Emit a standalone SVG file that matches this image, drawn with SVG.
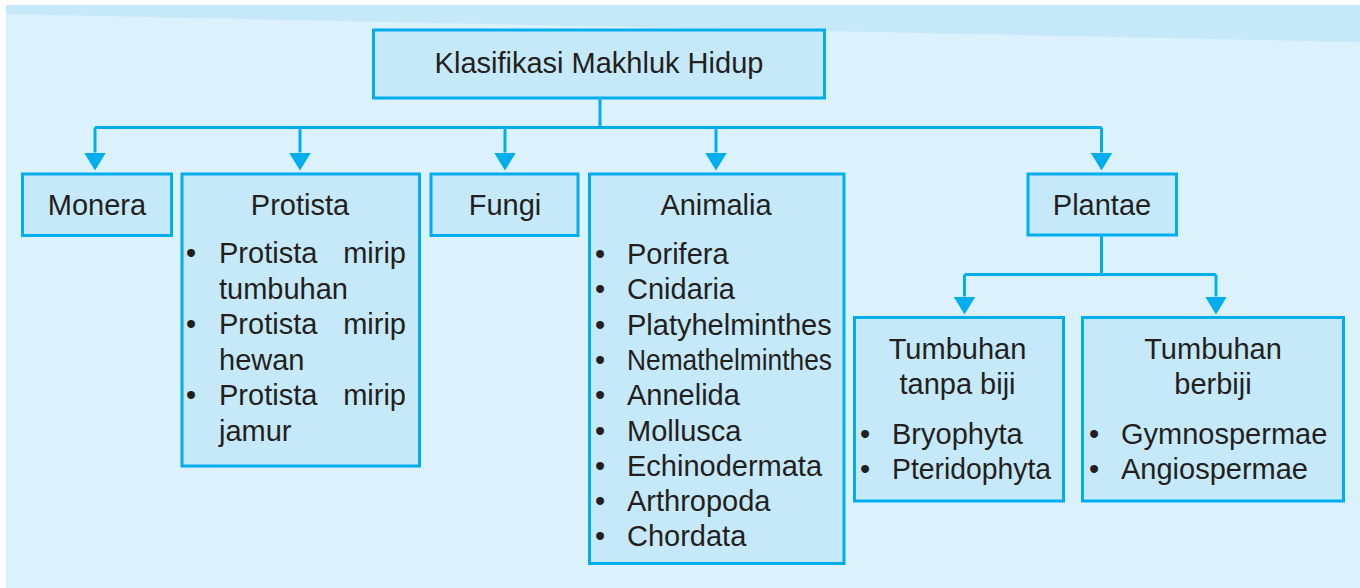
<svg xmlns="http://www.w3.org/2000/svg" width="1360" height="588" viewBox="0 0 1360 588">
<defs>
<style>
.box{fill:#c6e9f9;stroke:#00aeef;stroke-width:3}
.t{font-family:"Liberation Sans",Arial,Helvetica,sans-serif;font-size:29px;fill:#231f20}
.c{text-anchor:middle}
.con{fill:none;stroke:#00aeef;stroke-width:3}
</style>
<marker id="arr" markerUnits="userSpaceOnUse" markerWidth="18" markerHeight="22" refX="0" refY="11" orient="auto" viewBox="0 0 18 22">
<path d="M0 0 L18 11 L0 22 Z" fill="#00aeef"/>
</marker>
</defs>
<rect x="0" y="0" width="1360" height="588" fill="#ffffff"/>
<rect x="6" y="5" width="1354" height="583" fill="#dbf1fc"/>
<polygon points="6,5 1360,5 1360,42 6,14" fill="#c6e9f9"/>

<g id="connectors" class="con">
<path d="M600 98 V127.5 M95 127.5 H1101.5"/>
<path d="M95 127.5 V152.5" marker-end="url(#arr)"/>
<path d="M300 127.5 V152.5" marker-end="url(#arr)"/>
<path d="M505 127.5 V152.5" marker-end="url(#arr)"/>
<path d="M716 127.5 V152.5" marker-end="url(#arr)"/>
<path d="M1101.5 127.5 V152.5" marker-end="url(#arr)"/>
<path d="M1101.5 235 V274.5 M964.5 274.5 H1216"/>
<path d="M964.5 274.5 V296.5" marker-end="url(#arr)"/>
<path d="M1216 274.5 V296.5" marker-end="url(#arr)"/>
</g>

<g id="root">
<rect class="box" x="373.5" y="30" width="451" height="68"/>
<text class="t c" x="599" y="73">Klasifikasi Makhluk Hidup</text>
</g>

<g id="monera">
<rect class="box" x="22.5" y="174" width="149" height="61.5"/>
<text class="t c" x="97" y="215">Monera</text>
</g>

<g id="protista">
<rect class="box" x="182" y="174" width="237.5" height="292"/>
<text class="t c" x="300" y="215">Protista</text>
<g class="t">
<text x="186" y="263">•</text>
<text x="219" y="263">Protista<tspan x="406" text-anchor="end">mirip</tspan></text>
<text x="219" y="298.5">tumbuhan</text>
<text x="186" y="334">•</text>
<text x="219" y="334">Protista<tspan x="406" text-anchor="end">mirip</tspan></text>
<text x="219" y="369.5">hewan</text>
<text x="186" y="405">•</text>
<text x="219" y="405">Protista<tspan x="406" text-anchor="end">mirip</tspan></text>
<text x="219" y="440.5">jamur</text>
</g>
</g>

<g id="fungi">
<rect class="box" x="431" y="174" width="147" height="61.5"/>
<text class="t c" x="505" y="215">Fungi</text>
</g>

<g id="animalia">
<rect class="box" x="589.5" y="174" width="254.5" height="389.5"/>
<text class="t c" x="716" y="215">Animalia</text>
<g class="t">
<text x="595" y="264">•</text><text x="627" y="264">Porifera</text>
<text x="595" y="299.3">•</text><text x="627" y="299.3">Cnidaria</text>
<text x="595" y="334.6">•</text><text x="627" y="334.6">Platyhelminthes</text>
<text x="595" y="369.9">•</text><text x="627" y="369.9" textLength="205" lengthAdjust="spacingAndGlyphs">Nemathelminthes</text>
<text x="595" y="405.2">•</text><text x="627" y="405.2">Annelida</text>
<text x="595" y="440.5">•</text><text x="627" y="440.5">Mollusca</text>
<text x="595" y="475.8">•</text><text x="627" y="475.8">Echinodermata</text>
<text x="595" y="511.1">•</text><text x="627" y="511.1">Arthropoda</text>
<text x="595" y="546.4">•</text><text x="627" y="546.4">Chordata</text>
</g>
</g>

<g id="plantae">
<rect class="box" x="1028" y="174" width="148.5" height="61"/>
<text class="t c" x="1102" y="215">Plantae</text>
</g>

<g id="tanpa-biji">
<rect class="box" x="854.5" y="317.5" width="209" height="183.5"/>
<text class="t c" x="957.5" y="359">Tumbuhan</text>
<text class="t c" x="957.5" y="393.5">tanpa biji</text>
<g class="t">
<text x="860" y="444">•</text><text x="892" y="444">Bryophyta</text>
<text x="860" y="478.5">•</text><text x="892" y="478.5" textLength="159" lengthAdjust="spacingAndGlyphs">Pteridophyta</text>
</g>
</g>

<g id="berbiji">
<rect class="box" x="1082.5" y="317.5" width="261" height="183.5"/>
<text class="t c" x="1213" y="359">Tumbuhan</text>
<text class="t c" x="1213" y="393.5">berbiji</text>
<g class="t">
<text x="1089" y="444">•</text><text x="1121" y="444">Gymnospermae</text>
<text x="1089" y="478.5">•</text><text x="1121" y="478.5">Angiospermae</text>
</g>
</g>
</svg>
